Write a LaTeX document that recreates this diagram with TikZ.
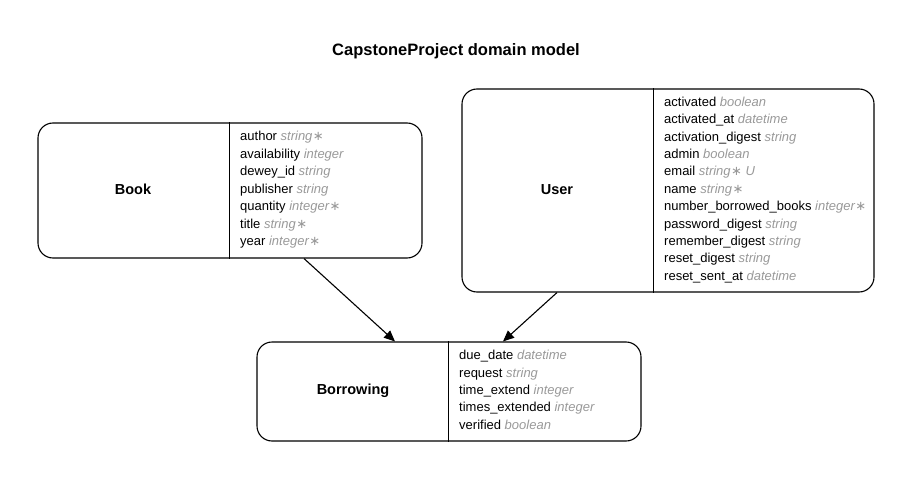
\documentclass[tikz,border=0pt]{standalone}
\usepackage{fontspec}
\setmainfont{Liberation Sans}
\newfontfamily\symfam{DejaVu Sans}
\usetikzlibrary{arrows.meta}
\definecolor{attrgray}{RGB}{153,153,153}
\newcommand{\ty}[1]{\textcolor{attrgray}{\itshape #1}}
\newcommand{\reqmark}{\textcolor{attrgray}{\kern0.5pt{\symfam ∗}}}
\begin{document}
\begin{tikzpicture}[x=1pt,y=-1pt,
  entity/.style={draw, line width=1.1pt, rounded corners=15pt, rectangle, inner sep=0pt},
  divider/.style={line width=1.1pt},
  ename/.style={font=\bfseries\fontsize{14.5}{17}\selectfont, inner sep=0pt},
  attr/.style={anchor=west, inner sep=0pt, text height=9.5pt, text depth=3pt, font=\fontsize{13}{15}\selectfont, yshift=-1.5pt},
  rel/.style={-{Triangle[length=11pt,width=9.5pt]}, line width=1.1pt},
  titlestyle/.style={font=\bfseries\fontsize{16.5}{19}\selectfont, inner sep=0pt}]
\useasboundingbox (0,0) rectangle (912,481);

\node[titlestyle] (title) at (456,51) {CapstoneProject domain model};

% Book
\node[entity, minimum width=384pt, minimum height=135pt] (book) at (230,190.5) {};
\draw[divider] ([xshift=192pt]book.north west) -- ([xshift=192pt]book.south west);
\node[ename] (bookname) at (133,189.5) {Book};
\node[attr] (b1) at (240,136) {author \ty{string}\reqmark};
\node[attr] (b2) at (240,153.5) {availability \ty{integer}};
\node[attr] (b3) at (240,171) {dewey\_id \ty{string}};
\node[attr] (b4) at (240,188.5) {publisher \ty{string}};
\node[attr] (b5) at (240,206) {quantity \ty{integer}\reqmark};
\node[attr] (b6) at (240,223.5) {title \ty{string}\reqmark};
\node[attr] (b7) at (240,241) {year \ty{integer}\reqmark};

% User
\node[entity, minimum width=412pt, minimum height=203pt] (user) at (668,190.5) {};
\draw[divider] ([xshift=192pt]user.north west) -- ([xshift=192pt]user.south west);
\node[ename] (username) at (557,189.5) {User};
\node[attr] (u1) at (664,101.5) {activated \ty{boolean}};
\node[attr] (u2) at (664,118.9) {activated\_at \ty{datetime}};
\node[attr] (u3) at (664,136.3) {activation\_digest \ty{string}};
\node[attr] (u4) at (664,153.7) {admin \ty{boolean}};
\node[attr] (u5) at (664,171.1) {email \ty{string}\reqmark\ \ty{U}};
\node[attr] (u6) at (664,188.5) {name \ty{string}\reqmark};
\node[attr] (u7) at (664,205.9) {number\_borrowed\_books \ty{integer}\reqmark};
\node[attr] (u8) at (664,223.3) {password\_digest \ty{string}};
\node[attr] (u9) at (664,240.7) {remember\_digest \ty{string}};
\node[attr] (u10) at (664,258.1) {reset\_digest \ty{string}};
\node[attr] (u11) at (664,275.5) {reset\_sent\_at \ty{datetime}};

% Borrowing
\node[entity, minimum width=384pt, minimum height=99pt] (borrow) at (449,391.5) {};
\draw[divider] ([xshift=192pt]borrow.north west) -- ([xshift=192pt]borrow.south west);
\node[ename] (borrowname) at (353,390.5) {Borrowing};
\node[attr] (w1) at (459,355) {due\_date \ty{datetime}};
\node[attr] (w2) at (459,372.4) {request \ty{string}};
\node[attr] (w3) at (459,389.8) {time\_extend \ty{integer}};
\node[attr] (w4) at (459,407.2) {times\_extended \ty{integer}};
\node[attr] (w5) at (459,424.6) {verified \ty{boolean}};

% relations
\draw[rel] ([xshift=74pt]book.south) -- ([xshift=-54pt]borrow.north);
\draw[rel] ([xshift=-111pt]user.south) -- ([xshift=54pt]borrow.north);
\end{tikzpicture}
\end{document}
